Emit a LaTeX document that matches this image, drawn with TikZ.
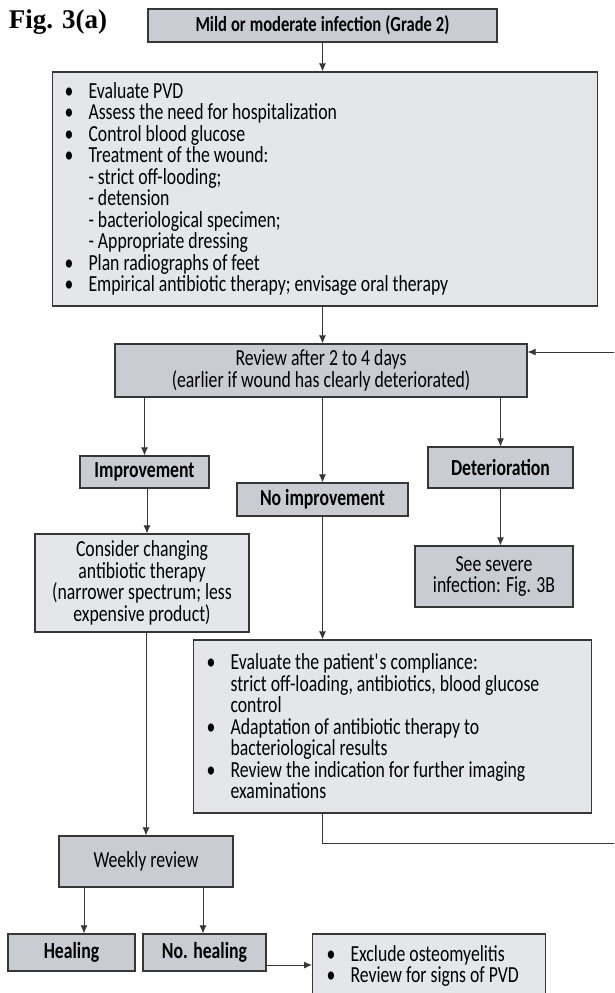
\documentclass[tikz,border=0pt]{standalone}
\usepackage{fontspec}
\setmainfont[FakeStretch=0.77]{Carlito}
\newfontfamily\titlefont{Liberation Serif}
\usepackage{xcolor}
\usetikzlibrary{arrows.meta,positioning,calc}

\definecolor{darkfill}{RGB}{201,204,211}
\definecolor{lightfill}{RGB}{228,230,234}
\definecolor{boxline}{RGB}{55,55,55}
\newcommand{\bitem}{\makebox[24pt][l]{\textbullet}}
\newcommand{\bgap}{\hspace*{24pt}}
\newcommand{\tightsp}{\spaceskip=4pt plus 1pt minus 1pt\relax}

\begin{document}
\begin{tikzpicture}[x=1pt,y=-1pt,>=Latex,
  darkbox/.style={draw=boxline,line width=1.1pt,fill=darkfill,inner sep=0pt,align=center,
    font=\fontsize{23}{21.5}\selectfont,execute at begin node=\tightsp},
  lightbox/.style={darkbox,fill=lightfill},
  listbox/.style={lightbox,align=left,anchor=west},
  headbox/.style={darkbox,font=\fontsize{23}{21.5}\selectfont\bfseries},
  arrow/.style={-{Latex[length=8pt,width=7pt]},line width=0.9pt,draw=boxline},
  link/.style={line width=0.9pt,draw=boxline}
]
\useasboundingbox (0,0) rectangle (614,993);
\clip (0,0) rectangle (614,993);

\node[font=\titlefont\fontsize{27}{27}\selectfont\bfseries] (title) at (58,22) {Fig. 3(a)};
\node[headbox,minimum width=349pt,minimum height=33pt,font=\fontsize{21.5}{21}\selectfont\bfseries] (mild) at (322.5,25.5) {Mild or moderate infection (Grade 2)};
\node[listbox,minimum width=545pt,minimum height=234pt,inner xsep=12pt,text width=521pt] (evaluate) at (52,189) {%
  \bitem Evaluate PVD\\
  \bitem Assess the need for hospitalization\\
  \bitem Control blood glucose\\
  \bitem Treatment of the wound:\\
  \bgap - strict off-looding;\\
  \bgap - detension\\
  \bgap - bacteriological specimen;\\
  \bgap - Appropriate dressing\\
  \bitem Plan radiographs of feet\\
  \bitem Empirical antibiotic therapy; envisage oral therapy};
\node[darkbox,minimum width=412pt,minimum height=53pt] (review) at (321,370.5) {Review after 2 to 4 days\\(earlier if wound has clearly deteriorated)};

\node[headbox,minimum width=129pt,minimum height=32pt] (improv) at (144.5,472) {Improvement};
\node[headbox,minimum width=171pt,minimum height=33pt] (noimprov) at (322.5,499.5) {No improvement};
\node[headbox,minimum width=145pt,minimum height=41pt] (deter) at (500.5,467.5) {Deterioration};

\node[lightbox,minimum width=214pt,minimum height=98pt] (consider) at (142,583) {Consider changing\\antibiotic therapy\\(narrower spectrum; less\\expensive product)};
\node[darkbox,minimum width=158pt,minimum height=61pt] (severe) at (494,576.5) {See severe\\infection: Fig. 3B};
\node[listbox,minimum width=398pt,minimum height=173pt,inner xsep=13pt,text width=372pt] (comply) at (193,726.5) {%
  \bitem Evaluate the patient\textquotesingle s compliance:\\
  \bgap strict off-loading, antibiotics, blood glucose\\
  \bgap control\\
  \bitem Adaptation of antibiotic therapy to\\
  \bgap bacteriological results\\
  \bitem Review the indication for further imaging\\
  \bgap examinations};

\node[darkbox,minimum width=174pt,minimum height=51pt] (weekly) at (146,861.5) {Weekly review};
\node[headbox,minimum width=127pt,minimum height=37pt] (healing) at (71.5,952.5) {Healing};
\node[headbox,minimum width=123pt,minimum height=37pt] (nohealing) at (204.5,952.5) {No. healing};
\node[listbox,minimum width=233pt,minimum height=64pt,inner xsep=14pt,text width=205pt] (exclude) at (312,966) {%
  \bitem Exclude osteomyelitis\\
  \bitem Review for signs of PVD};

\coordinate (loopcorner) at (616,843);
\coordinate (loopend) at (616,352);

\draw[arrow] (mild) -- (mild.south |- evaluate.north);
\draw[arrow] (evaluate.south -| mild) -- (review.north -| mild);
\draw[arrow] (improv.north |- review.south) -- (improv.north);
\draw[arrow] (noimprov.north |- review.south) -- (noimprov.north);
\draw[arrow] (deter.north |- review.south) -- (deter.north);
\draw[arrow] ([xshift=2.5pt]improv.south) -- ([xshift=2.5pt]improv.south |- consider.north);
\draw[arrow] (deter.south) -- (deter.south |- severe.north);
\draw[arrow] (noimprov.south) -- (noimprov.south |- comply.north);
\draw[link] (comply.south -| noimprov.south) |- (loopcorner) -- (loopend);
\draw[arrow] (loopend) -- (loopend -| review.east);
\draw[arrow] (weekly.north |- consider.south) -- (weekly.north);
\draw[arrow] ([xshift=-62pt]weekly.south) -- ([xshift=-62pt]weekly.south |- healing.north);
\draw[arrow] ([xshift=57pt]weekly.south) -- ([xshift=57pt]weekly.south |- nohealing.north);
\draw[arrow] ([yshift=-12.5pt]nohealing.east) -- ([yshift=-12.5pt]nohealing.east -| exclude.west);
\end{tikzpicture}
\end{document}
